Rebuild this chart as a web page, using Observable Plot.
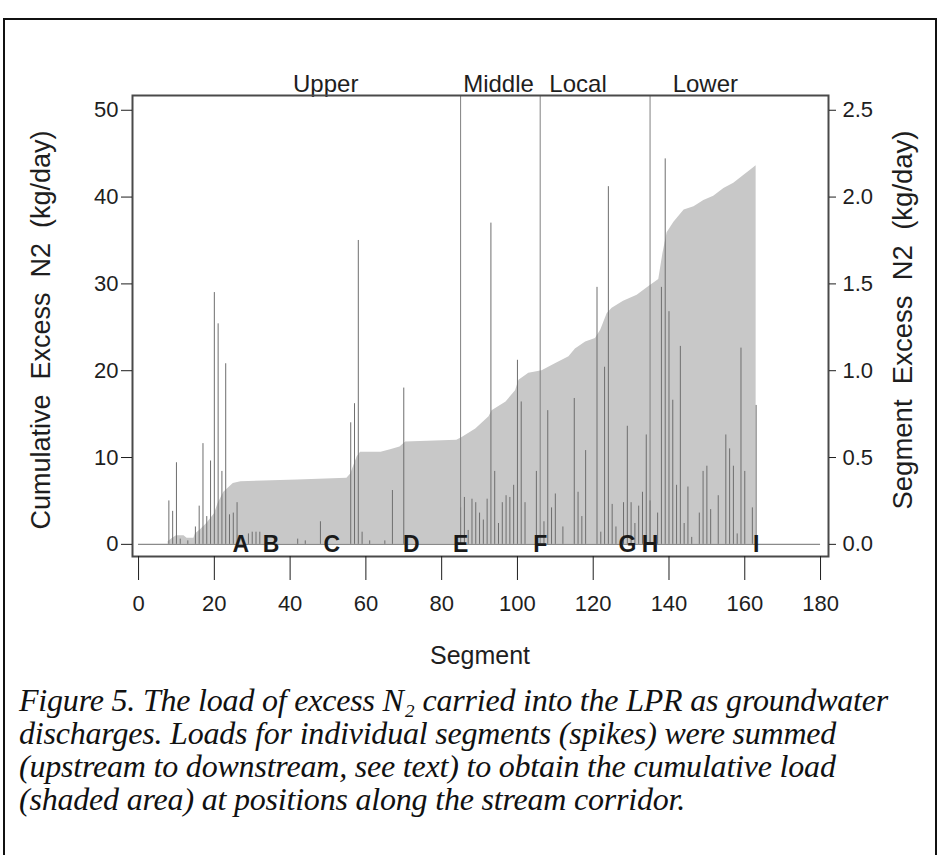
<!DOCTYPE html>
<html>
<head>
<meta charset="utf-8">
<script src="https://cdn.jsdelivr.net/npm/d3@7"></script>
<script src="https://cdn.jsdelivr.net/npm/@observablehq/plot@0.6"></script>
<style>
  html, body { margin: 0; padding: 0; background: #ffffff; }
  #page { position: relative; width: 940px; height: 855px; overflow: hidden; background: #fff; }
  #box { position: absolute; left: 3px; top: 18px; width: 934px; height: 860px; border: 2px solid #111; box-sizing: border-box; }
  #chart { position: absolute; left: 0; top: 0; }
  #caption { position: absolute; left: 19px; top: 684px; width: 918px; white-space: nowrap;
    font-family: "Liberation Serif", "Times New Roman", serif; font-style: italic;
    font-size: 32px; line-height: 33px; color: #111; letter-spacing: -0.2px; }
</style>
</head>
<body>
<div id="page">
  <div id="box"></div>
  <div id="chart"></div>
  <div id="caption">Figure 5. The load of excess N₂ carried into the LPR as groundwater<br>discharges. Loads for individual segments (spikes) were summed<br>(upstream to downstream, see text) to obtain the cumulative load<br>(shaded area) at positions along the stream corridor.</div>
</div>
<script>
// ---- data ----
// per-segment excess N2 load (kg/day), right axis
const spikeSegments = [8,9,10,11,13,15,16,17,18,19,20,21,22,23,24,25,26,29,30,31,32,42,44,48,56,57,58,59,61,65,67,70,
  85,86,87,88,89,90,91,92,93,94,95,96,97,98,99,100,101,102,105,107,108,109,110,112,115,116,117,118,
  121,122,123,124,125,126,128,129,130,131,132,133,134,135,137,138,139,140,141,142,143,144,145,146,
  148,149,150,151,153,155,156,157,158,159,160,162,163];
const spikeValues = [0.25,0.19,0.47,0.03,0.02,0.10,0.22,0.58,0.16,0.48,1.45,1.27,0.42,1.04,0.17,0.18,0.24,0.06,0.07,0.07,0.07,0.03,0.02,0.13,0.70,0.81,1.75,0.07,0.02,0.02,0.31,0.90,
  0.21,0.27,0.08,0.26,0.24,0.18,0.14,0.26,1.85,0.42,0.12,0.24,0.28,0.27,0.34,1.06,0.82,0.24,0.42,0.13,0.77,0.21,0.29,0.10,0.84,0.30,0.16,0.54,
  1.48,0.07,1.02,2.06,0.23,0.10,0.24,0.68,0.24,0.12,0.22,0.30,0.63,0.25,0.18,1.48,2.22,1.34,0.83,0.34,1.14,0.12,0.33,0.04,
  0.18,0.42,0.45,0.20,0.28,0.63,0.55,0.45,0.06,1.13,0.42,0.21,0.80];

// cumulative excess N2 (kg/day), left axis, read along the shaded area's edge
const cumSegments = [7.8,9,10,12,12.8,14.6,15,16.4,18,20,21,22.5,24,25,27,33,42,55,56,57.7,58.6,64,66.5,69,70.5,84,85.4,89,92.5,93.3,97,99.5,100.4,103,106.5,110,113.6,115.3,118,120.6,122,123.7,125,128,131.6,134.7,137.3,138.4,139.5,141.3,143,144,146.6,149.2,151.8,154.5,157.1,159.8,161.5,163];
const cumValues   = [0.3,0.7,1.0,1.0,0.7,0.7,1.2,1.7,2.4,3.5,4.7,6.0,6.6,7.0,7.2,7.3,7.4,7.6,8.1,10.1,10.6,10.6,10.9,11.2,11.8,12.0,12.3,13.3,14.7,15.4,16.4,17.7,18.9,19.7,20.0,20.8,21.6,22.5,23.3,23.7,24.7,26.6,27.2,28.0,28.7,29.7,30.5,33.5,35.9,37.1,38.0,38.5,38.9,39.6,40.1,41.0,41.6,42.5,43.1,43.6];

// boundaries between river reaches (segments)
const reachBoundaries = [85, 106, 135];
const reachNames = ["Upper", "Middle", "Local", "Lower"];
const reachLabelSegments = [49.4, 95, 116, 149.6];

// sampling sites
const siteLabels = ["A","B","C","D","E","F","G","H","I"];
const siteSegments = [27, 35, 51, 72, 85, 106, 129, 135, 163];

const xTicks = [0,20,40,60,80,100,120,140,160,180];
const yTicks = [0,10,20,30,40,50];
const axisExtent = [0, 180];

const leftTitle = "Cumulative  Excess  N2  (kg/day)";
const rightTitle = "Segment  Excess  N2  (kg/day)";
const xTitle = "Segment";

// ---- build tables ----
const spikes = spikeSegments.map((s, i) => ({seg: s, v: spikeValues[i]}));
const cum = cumSegments.map((s, i) => ({seg: s, c: cumValues[i]}));
const regions = reachNames.map((n, i) => ({name: n, seg: reachLabelSegments[i]}));
const sites = siteLabels.map((l, i) => ({label: l, seg: siteSegments[i]}));
const baseline = [{x1: axisExtent[0], x2: axisExtent[1], y: 0}];

const SCALE = 20; // right axis (kg/day per segment) = left axis / 20
const yDomain = [-1.4, 51.7];
const sans = "'Liberation Sans', Arial, Helvetica, sans-serif";

const chart = Plot.plot({
  width: 940,
  height: 690,
  marginLeft: 132,
  marginRight: 112,
  marginTop: 95,
  marginBottom: 134,
  x: {domain: [-1.6, 182.1]},
  y: {domain: yDomain},
  style: {fontFamily: sans, fontSize: "22px", color: "#1e1e1e", background: "transparent", overflow: "visible"},
  marks: [
    Plot.areaY(cum, {x: "seg", y: "c", fill: "#c8c8c8", curve: "linear"}),
    Plot.ruleY(baseline, {x1: "x1", x2: "x2", y: "y", stroke: "#8a8a8a", strokeWidth: 1.2}),
    Plot.ruleX(spikes, {x: "seg", y1: () => 0, y2: d => d.v * SCALE, stroke: "#6e6e6e", strokeWidth: 1}),
    Plot.ruleX(reachBoundaries, {x: d => d, y1: () => 0, y2: () => yDomain[1], stroke: "#808080", strokeWidth: 1}),
    Plot.text(sites, {x: "seg", y: () => 0, text: "label", fontWeight: "bold", fontSize: 23, fill: "#1a1a1a"}),
    Plot.text(regions, {x: "seg", frameAnchor: "top", dy: -21, text: "name", fontSize: 24, fill: "#1e1e1e"}),
    Plot.frame({stroke: "#4a4a4a", strokeWidth: 2}),
    Plot.axisY({anchor: "left", ticks: yTicks, tickSize: 11, tickPadding: 3, fontSize: 22, label: null}),
    Plot.axisY({anchor: "right", ticks: yTicks, tickFormat: d => (d / SCALE).toFixed(1), tickSize: 7, tickPadding: 7, fontSize: 22, label: null}),
    Plot.axisX({ticks: xTicks, tickSize: 24, tickPadding: 15, fontSize: 22, label: null})
  ]
});
document.getElementById("chart").appendChild(chart);

// axis titles
const svg = d3.select(chart);
svg.append("text").attr("transform", "translate(43,330) rotate(-90)")
  .attr("text-anchor", "middle").attr("dominant-baseline", "middle")
  .style("font-family", sans).style("font-size", "27px").attr("fill", "#1e1e1e").text(leftTitle);
svg.append("text").attr("transform", "translate(905,320) rotate(-90)")
  .attr("text-anchor", "middle").attr("dominant-baseline", "middle")
  .style("font-family", sans).style("font-size", "27.5px").attr("fill", "#1e1e1e").text(rightTitle);
svg.append("text").attr("x", 480).attr("y", 657)
  .attr("text-anchor", "middle").attr("dominant-baseline", "middle")
  .style("font-family", sans).style("font-size", "25px").attr("fill", "#1e1e1e").text(xTitle);
</script>
</body>
</html>
